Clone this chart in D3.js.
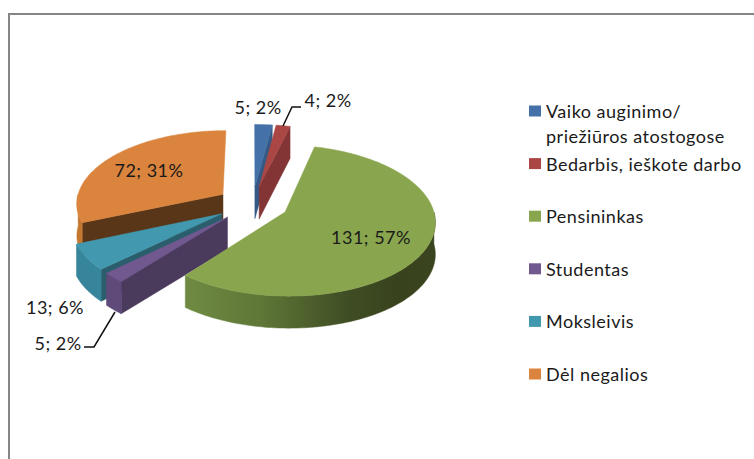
<!DOCTYPE html>
<html><head><meta charset="utf-8">
<script src="https://d3js.org/d3.v7.min.js"></script>
<style>html,body{margin:0;padding:0;background:#fff}svg{display:block}text{font-family:Lato,"Open Sans",sans-serif;fill:#1a1a1a;letter-spacing:.5px}</style>
</head><body><svg id="c" width="754" height="459"></svg>
<script>
const categories=["Vaiko auginimo/|priežiūros atostogose","Bedarbis, ieškote darbo","Pensininkas","Studentas","Moksleivis","Dėl negalios"];
const values=[5,4,131,5,13,72];
const percents=[2,2,57,2,6,31];
const topColors=["#4472a8","#aa4643","#89a54e","#71588f","#4198af","#db843d"];
const rimColors=["#3a6391","#8a3836","#6b8540","#5f4a7a","#37859a","#c4772f"];
const cutColors=["#355a86","#833535","#5d7339","#4a3a5c","#2b5e6d","#5a3618"];

const svg=d3.select("#c");
const W=754,H=459;
svg.append("rect").attr("x",9).attr("y",14).attr("width",W+10).attr("height",H+10).attr("fill","#fff").attr("stroke","#868686").attr("stroke-width",2);

const defs=svg.append("defs");
const grad=defs.append("linearGradient").attr("id","gw").attr("x1",0).attr("x2",1).attr("y1",0).attr("y2",0);
[[0,"#6f8b42"],[.3,"#5f7737"],[.65,"#3f4d24"],[.85,"#38431d"],[1,"#3a451f"]].forEach(s=>grad.append("stop").attr("offset",s[0]).attr("stop-color",s[1]));

const CX=252.5,CY=204,R=147,EXPL=36,K=.495,D=1320,DEPTH=32;
function proj(X,Y,dz=0){const s=D/(D+Y);return [CX+X*s,CY-Y*K*s+dz];}
const pie=d3.pie().sort(null).value(d=>d);
const arcs=pie(values);
const line=d3.line();
function pt(d,r,a,dz=0){
  const m=(d.startAngle+d.endAngle)/2;
  return proj(EXPL*Math.sin(m)+r*Math.sin(a),EXPL*Math.cos(m)+r*Math.cos(a),dz);
}
function arcPts(d,a0,a1,dz=0){
  const n=Math.max(2,Math.ceil((a1-a0)/0.02));
  return d3.range(n+1).map(i=>pt(d,R,a0+(a1-a0)*i/n,dz));
}
const order=[5,0,1,4,3,2];
const g=svg.append("g");
order.forEach(i=>{
  const d=arcs[i];
  const path=(pts,fill)=>g.append("path").attr("d",line(pts)+"Z").attr("fill",fill).attr("stroke",fill).attr("stroke-width",.5).attr("stroke-linejoin","round");
  const cut=a=>{path([pt(d,0,a),pt(d,R,a),pt(d,R,a,DEPTH),pt(d,0,a,DEPTH)],cutColors[i]);};
  if(Math.sin(d.endAngle)>1e-6) cut(d.endAngle);
  if(Math.sin(d.startAngle)<-1e-6) cut(d.startAngle);
  const a0=Math.max(d.startAngle,Math.PI/2),a1=Math.min(d.endAngle,3*Math.PI/2);
  if(a1>a0){
    const top=arcPts(d,a0,a1),bot=arcPts(d,a0,a1,DEPTH).reverse();
    path(top.concat(bot),i===2?"url(#gw)":rimColors[i]);
  }
  path([pt(d,0,d.startAngle)].concat(arcPts(d,d.startAngle,d.endAngle)),topColors[i]);
});

const lab=[[0,258,107],[1,328,100],[2,371,237],[3,58,343],[4,55,307],[5,149,170]];
lab.forEach(([i,x,y])=>{
  svg.append("text").attr("x",x).attr("y",y).attr("text-anchor","middle").attr("dominant-baseline","central").attr("font-size",18).text(`${values[i]}; ${percents[i]}%`);
});
const leader=d3.line();
[[[283,126],[292,107],[301,107]],[[115,312],[94,347],[84,347]]].forEach(p=>svg.append("path").attr("d",leader(p)).attr("fill","none").attr("stroke","#111").attr("stroke-width",1.5));

const legY=d3.scaleLinear().domain([0,5]).range([111,374]);
categories.forEach((c,i)=>{
  const y=legY(i);
  svg.append("rect").attr("x",529).attr("y",y-5.5).attr("width",12).attr("height",11).attr("fill",topColors[i]);
  c.split("|").forEach((t,j)=>svg.append("text").attr("x",546).attr("y",y+j*25).attr("dominant-baseline","central").attr("font-size",18).text(t));
});
</script></body></html>
